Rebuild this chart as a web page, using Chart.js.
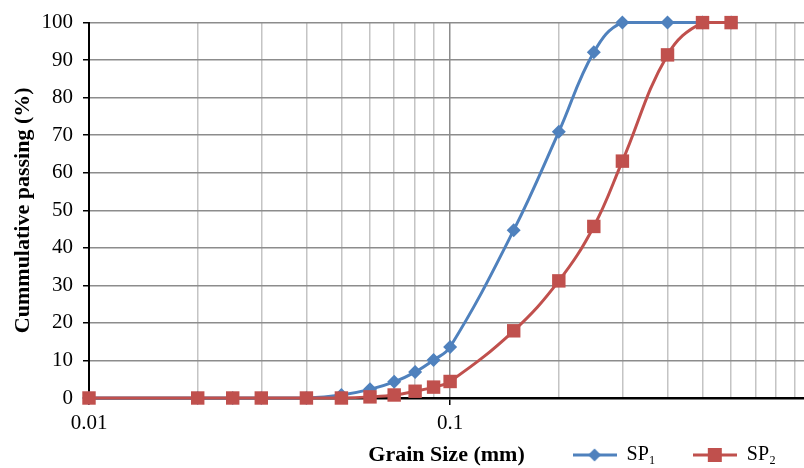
<!DOCTYPE html>
<html>
<head>
<meta charset="utf-8">
<script src="https://cdn.jsdelivr.net/npm/chart.js@4/dist/chart.umd.min.js"></script>
<style>
  html, body { margin: 0; padding: 0; background: #fff; }
  #wrap { width: 804px; height: 468px; }
</style>
</head>
<body>
<div id="wrap"><canvas id="gradingChart" width="804" height="468"></canvas></div>
<script>
// Sieve sizes (mm) and cumulative passing (%)
const grainSizes = [0.01, 0.02, 0.025, 0.03, 0.04, 0.05, 0.06, 0.07, 0.08, 0.09, 0.1, 0.15, 0.2, 0.25, 0.3, 0.4, 0.5, 0.6];
const sp1Passing = [0, 0, 0, 0, 0, 0.8, 2.3, 4.3, 6.9, 10.1, 13.6, 44.7, 70.9, 92.1, 100, 100, 100, 100];
const sp2Passing = [0, 0, 0, 0, 0, 0, 0.3, 0.8, 1.8, 2.9, 4.4, 17.9, 31.2, 45.7, 63.1, 91.4, 100, 100];

// log grid lines and the ones that get a label
const xGridValues = [0.01, 0.02, 0.03, 0.04, 0.05, 0.06, 0.07, 0.08, 0.09, 0.1, 0.2, 0.3, 0.4, 0.5, 0.6, 0.7, 0.8, 0.9];
const xTickLabels = ['0.01', '0.1'];

const BLUE = '#4F81BD';
const RED = '#C0504D';
const FONT = "'Liberation Serif', 'Times New Roman', serif";
const LEGEND_PAD = 37;

function toPoints(values) {
    return grainSizes.map((x, i) => ({ x: x, y: values[i] }));
}

// little line + marker icon for the legend (Excel style)
function legendIcon(color, shape) {
    const c = document.createElement('canvas');
    c.width = 44;
    c.height = 16;
    const g = c.getContext('2d');
    g.strokeStyle = color;
    g.lineWidth = 3;
    g.beginPath();
    g.moveTo(0, 8);
    g.lineTo(44, 8);
    g.stroke();
    g.fillStyle = color;
    g.beginPath();
    if (shape === 'diamond') {
        g.moveTo(22, 1.5); g.lineTo(28.5, 8); g.lineTo(22, 14.5); g.lineTo(15.5, 8);
    } else {
        g.rect(15, 1, 14, 14);
    }
    g.closePath();
    g.fill();
    return c;
}
const legendIcons = [legendIcon(BLUE, 'diamond'), legendIcon(RED, 'square')];

// legend sits on the same row as the x axis title, so move it after layout
const legendOnTitleRow = {
    id: 'legendOnTitleRow',
    afterLayout(chart) {
        const lg = chart.legend;
        if (!lg) return;
        const dy = 455 - (lg.top + LEGEND_PAD + 10);
        lg.top += dy;
        lg.bottom += dy;
        lg.left += 9;
        lg.right += 9;
    }
};

const ctx = document.getElementById('gradingChart').getContext('2d');

new Chart(ctx, {
    type: 'line',
    data: {
        datasets: [{
            label: 'SP\u2081',
            data: toPoints(sp1Passing),
            borderColor: BLUE,
            backgroundColor: BLUE,
            borderWidth: 3,
            pointStyle: 'rectRot',
            pointRadius: 7,
            pointHoverRadius: 7,
            pointBorderWidth: 0,
            tension: 0.4,
            clip: false,
            order: 2
        }, {
            label: 'SP\u2082',
            data: toPoints(sp2Passing),
            borderColor: RED,
            backgroundColor: RED,
            borderWidth: 3,
            pointStyle: 'rect',
            pointRadius: 9.5,
            pointHoverRadius: 9.5,
            pointBorderWidth: 0,
            tension: 0.4,
            clip: false,
            order: 1
        }]
    },
    plugins: [legendOnTitleRow],
    options: {
        responsive: false,
        animation: false,
        layout: {
            autoPadding: false,
            padding: { top: 17, right: 0, bottom: -LEGEND_PAD, left: 0 }
        },
        plugins: {
            legend: {
                display: true,
                position: 'bottom',
                align: 'end',
                labels: {
                    usePointStyle: true,
                    pointStyleWidth: 44,
                    padding: LEGEND_PAD,
                    color: '#000',
                    font: { family: FONT, size: 20 },
                    sort: (a, b) => a.datasetIndex - b.datasetIndex,
                    generateLabels: chart => Chart.defaults.plugins.legend.labels.generateLabels(chart)
                        .map(item => Object.assign(item, { pointStyle: legendIcons[item.datasetIndex] }))
                }
            },
            tooltip: { enabled: false }
        },
        scales: {
            x: {
                type: 'logarithmic',
                bounds: 'data',
                min: 0.01,
                max: 0.955,
                afterBuildTicks: scale => {
                    scale.ticks = xGridValues.map(v => ({ value: v }));
                },
                afterFit: scale => {
                    scale.height = 40;
                    scale.paddingRight = 0;
                },
                ticks: {
                    autoSkip: false,
                    maxRotation: 0,
                    padding: 6,
                    color: '#000',
                    font: { family: FONT, size: 21 },
                    callback: value => {
                        const s = String(Math.round(value * 1000) / 1000);
                        return xTickLabels.includes(s) ? s : '';
                    }
                },
                grid: {
                    color: c => (c.tick && c.tick.value === 0.1) ? '#8c8c8c' : '#c4c4c4',
                    lineWidth: 1.5,
                    tickLength: 7,
                    tickColor: c => (c.tick && (c.tick.value === 0.1 || c.tick.value === 0.01)) ? '#000' : 'rgba(0,0,0,0)'
                },
                border: { color: '#000', width: 2.5 },
                title: {
                    display: true,
                    text: 'Grain Size (mm)',
                    color: '#000',
                    font: { family: FONT, size: 22, weight: 'bold', lineHeight: 1 },
                    padding: { top: 0, bottom: -28 }
                }
            },
            y: {
                min: 0,
                max: 100,
                afterFit: scale => { scale.width = 89; },
                ticks: {
                    stepSize: 10,
                    padding: 10,
                    color: '#000',
                    font: { family: FONT, size: 21 }
                },
                grid: {
                    color: '#8c8c8c',
                    lineWidth: 1.5,
                    tickLength: 6,
                    tickColor: '#000'
                },
                border: { color: '#000', width: 2 },
                title: {
                    display: true,
                    text: 'Cummulative passing (%)',
                    color: '#000',
                    font: { family: FONT, size: 22, weight: 'bold', lineHeight: 1 },
                    padding: { top: 12, bottom: 0 }
                }
            }
        }
    }
});
</script>
</body>
</html>
